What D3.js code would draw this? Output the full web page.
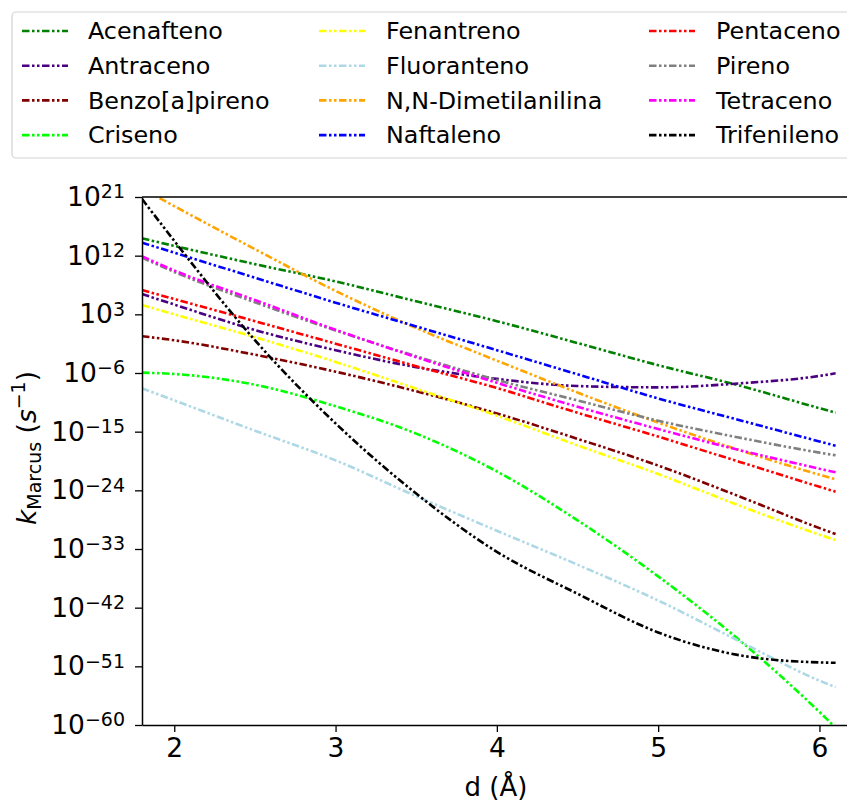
<!DOCTYPE html>
<html><head><meta charset="utf-8">
<script src="https://cdn.jsdelivr.net/npm/d3@7"></script>
<style>
body{margin:0;background:#fff}
text{font-family:"DejaVu Sans",sans-serif;fill:#000}
</style>
</head><body>
<svg id="chart" width="847" height="801"></svg>
<script>
// ---- data (log10 of k_Marcus, s^-1) ----
const distances = [1.8, 2.0, 2.5, 3.0, 3.5, 4.0, 4.5, 5.0, 5.5, 6.0, 6.1];
const compounds = ["Acenafteno","Antraceno","Benzo[a]pireno","Criseno","Fenantreno","Fluoranteno",
                   "N,N-Dimetilanilina","Naftaleno","Pentaceno","Pireno","Tetraceno","Trifenileno"];
const acenafteno   = [14.66, 13.5, 10.7, 8.05, 5.0, 1.95, -1.4, -4.8, -7.9, -11.4, -12.09];
const antraceno    = [6.12, 4.5, 0.6, -2.5, -5.1, -6.9, -8.0, -8.2, -7.6, -6.45, -6.05];
const benzopireno  = [-0.35, -0.98, -3.19, -5.8, -8.8, -12.2, -16.1, -20.2, -24.9, -29.8, -30.7];
const criseno      = [-5.95, -6.15, -7.8, -11.1, -15.3, -21.1, -28.6, -37.2, -46.9, -58.0, -60.4];
const fenantreno   = [4.43, 3.0, -0.5, -4.3, -8.4, -12.55, -17.1, -21.5, -26.3, -30.8, -31.62];
const fluoranteno  = [-8.35, -10.2, -14.85, -19.4, -24.9, -30.2, -35.4, -40.9, -47.1, -53.2, -54.2];
const dimetilanilina = [22.3, 19.6, 13.0, 6.6, 0.9, -4.1, -9.0, -13.6, -17.8, -21.6, -22.31];
const naftaleno    = [14.0, 12.45, 8.62, 4.79, 1.15, -2.5, -6.2, -9.9, -13.2, -16.5, -17.15];
const pentaceno    = [6.73, 5.35, 1.95, -1.5, -4.95, -8.3, -12.1, -15.75, -19.6, -23.45, -24.21];
const pireno       = [11.7, 9.5, 4.85, 0.53, -3.43, -7.07, -10.2, -13.32, -15.9, -18.22, -18.63];
const tetraceno    = [11.9, 9.73, 5.2, 0.63, -3.57, -7.5, -11.17, -14.6, -17.8, -20.68, -21.24];
const trifenileno  = [20.7, 14.27, -0.97, -13.73, -24.5, -33.43, -39.86, -45.8, -49.28, -50.4, -50.45];
const seriesValues = [acenafteno, antraceno, benzopireno, criseno, fenantreno, fluoranteno,
                      dimetilanilina, naftaleno, pentaceno, pireno, tetraceno, trifenileno];
const yTickExponents = [21, 12, 3, -6, -15, -24, -33, -42, -51, -60];
const xTicks = [2, 3, 4, 5, 6];

// ---- styles ----
const colors = ["green","indigo","maroon","lime","yellow","lightblue",
                "orange","blue","red","gray","magenta","black"];
const dash = "7.5,2.5,2.5,2.5,2.5,2.5";

const svg = d3.select("#chart");
const L = 142, T = 197, B = 725;
const x = d3.scaleLinear().domain([1.8, 6.2]).range([L, L + 4.4 * 161.3]);
const y = d3.scaleLog().domain([1e-60, 1e21]).range([B, T]);

svg.append("defs").append("clipPath").attr("id","plotclip")
  .append("rect").attr("x", L).attr("y", T).attr("width", 720).attr("height", B - T);

const line = d3.line()
  .x(d => x(d.d))
  .y(d => y(Math.pow(10, d.v)))
  .curve(d3.curveMonotoneX);

const g = svg.append("g").attr("clip-path","url(#plotclip)");
seriesValues.forEach((vals, i) => {
  const pts = distances.map((d, j) => ({d: d, v: vals[j]}));
  g.append("path").datum(pts)
    .attr("d", line)
    .attr("fill","none")
    .attr("stroke", colors[i])
    .attr("stroke-width", 2.6)
    .attr("stroke-dasharray", dash);
});

// ---- axes ----
const yAxis = d3.axisLeft(y)
  .tickValues(yTickExponents.map(e => Math.pow(10, e)))
  .tickSize(7).tickSizeOuter(0).tickPadding(10)
  .tickFormat(() => "");
const gy = svg.append("g").attr("transform", `translate(${L},0)`).call(yAxis);
gy.selectAll(".tick text").each(function(d, i) {
  const t = d3.select(this);
  t.attr("font-size", 26.5).attr("font-family", '"DejaVu Sans",sans-serif').attr("fill","#000");
  t.append("tspan").text("10");
  t.append("tspan").attr("font-size", 19).attr("dy", "-0.4em")
    .text(String(yTickExponents[i]).replace("-", "\u2212"));
});

const xAxis = d3.axisBottom(x).tickValues(xTicks).tickSize(7).tickSizeOuter(0).tickPadding(6)
  .tickFormat(d3.format("d"));
const gx = svg.append("g").attr("transform", `translate(0,${B})`).call(xAxis);
gx.selectAll(".tick text").attr("font-size", 26.5).attr("font-family", '"DejaVu Sans",sans-serif').attr("fill","#000");

[gx, gy].forEach(a => {
  a.select(".domain").attr("stroke","#000").attr("stroke-width",1.5);
  a.selectAll(".tick line").attr("stroke","#000").attr("stroke-width",1.3);
});
svg.append("line").attr("x1", L).attr("x2", 850).attr("y1", T).attr("y2", T)
  .attr("stroke","#000").attr("stroke-width",1.5);

// axis labels
svg.append("text").attr("x", 496).attr("y", 796).attr("text-anchor","middle")
  .attr("font-size", 26).text("d (Å)");

const yl = svg.append("text").attr("transform","translate(36,448) rotate(-90)")
  .attr("text-anchor","middle").attr("font-size", 26.5);
yl.append("tspan").attr("font-style","italic").text("k");
yl.append("tspan").attr("font-size",19).attr("dy",5).text("Marcus");
yl.append("tspan").attr("dy",-5).text(" (");
yl.append("tspan").attr("font-style","italic").text("s");
yl.append("tspan").attr("font-size",19).attr("dy",-11).text("\u22121");
yl.append("tspan").attr("dy",11).text(")");

// ---- legend ----
const leg = svg.append("g");
leg.append("rect").attr("x", 12).attr("y", 12).attr("width", 850).attr("height", 146)
  .attr("rx", 4).attr("fill","#fff").attr("stroke","#d3d3d3").attr("stroke-width",1.2);
const handleX = [22, 319, 649], labelX = [88, 386, 716];
compounds.forEach((name, i) => {
  const col = Math.floor(i / 4), row = i % 4;
  const yy = 31 + row * 34.7;
  leg.append("line").attr("x1", handleX[col]).attr("x2", handleX[col] + 46)
    .attr("y1", yy).attr("y2", yy)
    .attr("stroke", colors[i]).attr("stroke-width", 2.6).attr("stroke-dasharray", dash);
  leg.append("text").attr("x", labelX[col]).attr("y", yy).attr("dy","0.35em")
    .attr("font-size", 23.8).text(name);
});
</script>
</body></html>
